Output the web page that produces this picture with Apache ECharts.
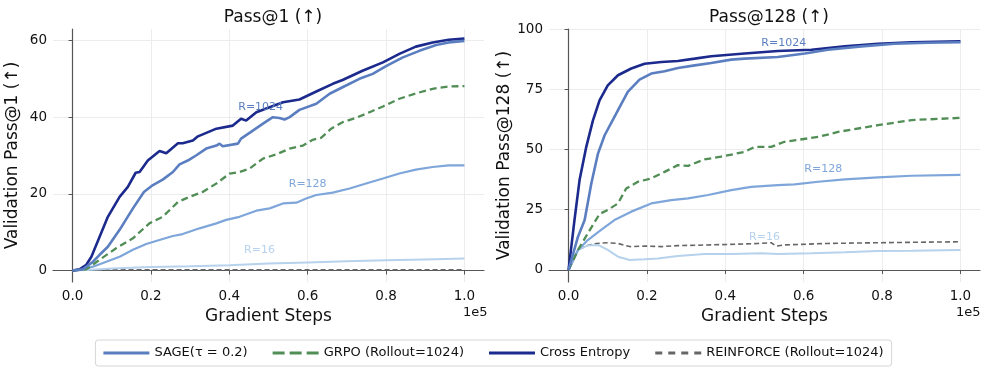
<!DOCTYPE html>
<html>
<head>
<meta charset="utf-8">
<script src="https://cdn.jsdelivr.net/npm/echarts@6.0.0/dist/echarts.min.js"></script>
<style>
  html, body { margin: 0; padding: 0; background: #fff; }
  #chart { width: 987px; height: 375px; }
</style>
</head>
<body>
<div id="chart"></div>
<script>
// x is in units of 1e5 gradient steps
const xTicks = [0, 0.2, 0.4, 0.6, 0.8, 1.0];
const yTicksPass1 = [0, 20, 40, 60];
const yTicksPass128 = [0, 25, 50, 75, 100];

// ---- Pass@1 ----
const pass1CrossEntropy = [[0,0],[0.018,0.3],[0.035,1.5],[0.048,3.6],[0.069,8.8],[0.09,14],[0.12,19.2],[0.141,21.8],[0.161,25.5],[0.171,25.7],[0.192,28.7],[0.222,31.2],[0.239,30.6],[0.269,33.2],[0.281,33.2],[0.307,33.9],[0.32,35],[0.367,37],[0.409,37.8],[0.43,39.6],[0.443,39.1],[0.469,41.3],[0.537,43.9],[0.579,44.6],[0.622,46.7],[0.664,48.7],[0.689,49.7],[0.74,52.1],[0.792,54.3],[0.834,56.5],[0.876,58.4],[0.919,59.5],[0.96,60.2],[1.0,60.5]];
const pass1Sage = [[0,0],[0.026,0.3],[0.052,2.3],[0.069,4.1],[0.09,6.2],[0.12,10.6],[0.154,16.2],[0.182,20.5],[0.205,22.3],[0.23,23.7],[0.256,25.7],[0.273,27.7],[0.298,28.9],[0.315,30],[0.341,31.8],[0.367,32.6],[0.375,33.1],[0.383,32.4],[0.422,33.1],[0.43,34.4],[0.46,36.5],[0.486,38.3],[0.511,40],[0.528,39.8],[0.541,39.4],[0.554,40],[0.579,41.9],[0.622,43.5],[0.656,46.1],[0.689,47.8],[0.732,50],[0.766,51.3],[0.8,53.3],[0.843,55.6],[0.885,57.3],[0.928,58.8],[0.96,59.5],[1.0,59.9]];
const pass1Grpo = [[0,0],[0.035,0.3],[0.069,2.8],[0.111,5.8],[0.154,8.4],[0.196,12.3],[0.23,14],[0.269,17.9],[0.298,19.2],[0.332,20.5],[0.367,22.7],[0.401,25.3],[0.426,25.7],[0.452,26.6],[0.486,29.2],[0.52,30.3],[0.554,31.8],[0.588,32.6],[0.613,34.1],[0.634,34.6],[0.66,37],[0.689,38.7],[0.723,39.8],[0.758,41.3],[0.792,42.8],[0.834,44.8],[0.876,46.2],[0.919,47.4],[0.96,48],[1.0,48.1]];
const pass1R128 = [[0,0],[0.026,0.3],[0.052,1],[0.086,2.3],[0.12,3.6],[0.154,5.4],[0.188,6.9],[0.23,8.2],[0.256,9],[0.281,9.5],[0.324,11],[0.367,12.3],[0.392,13.2],[0.426,14],[0.469,15.6],[0.503,16.2],[0.537,17.5],[0.571,17.7],[0.596,18.8],[0.622,19.7],[0.664,20.3],[0.707,21.4],[0.749,22.7],[0.792,24],[0.834,25.3],[0.876,26.3],[0.919,27],[0.96,27.4],[1.0,27.4]];
const pass1R16 = [[0,0],[0.05,0.2],[0.1,0.5],[0.2,0.9],[0.3,1.1],[0.4,1.4],[0.5,1.8],[0.6,2.1],[0.7,2.4],[0.8,2.7],[0.9,2.9],[1.0,3.1]];
const pass1Reinforce = [[0,0.2],[0.2,0.2],[0.4,0.2],[0.6,0.2],[0.8,0.2],[1.0,0.2]];

// ---- Pass@128 ----
const pass128CrossEntropy = [[0,0],[0.015,20.7],[0.028,37.3],[0.045,51],[0.062,62],[0.079,70.4],[0.1,76.6],[0.126,80.8],[0.16,83.6],[0.194,85.6],[0.237,86.3],[0.279,86.7],[0.322,87.7],[0.364,88.7],[0.449,89.8],[0.534,90.9],[0.62,91.4],[0.705,92.8],[0.79,93.9],[0.875,94.5],[1.0,94.9]];
const pass128Sage = [[0,0],[0.024,13.8],[0.041,20.7],[0.058,35.9],[0.075,48.3],[0.092,55.9],[0.117,63.5],[0.151,73.9],[0.181,79],[0.211,81.5],[0.245,82.5],[0.279,83.8],[0.322,84.9],[0.364,85.9],[0.415,87.3],[0.449,87.7],[0.534,88.4],[0.603,89.8],[0.662,91.4],[0.747,92.8],[0.832,93.9],[0.917,94.3],[1.0,94.5]];
const pass128Grpo = [[0,0],[0.024,8.3],[0.049,15.2],[0.079,23.2],[0.1,24.9],[0.126,27.6],[0.147,33.8],[0.177,36.6],[0.211,38],[0.245,40.7],[0.279,43.5],[0.305,43.2],[0.347,45.9],[0.389,47],[0.449,49],[0.475,51.1],[0.517,51.1],[0.551,53.2],[0.637,55.2],[0.688,57.3],[0.79,60.1],[0.875,62.2],[1.0,63.1]];
const pass128R128 = [[0,0],[0.024,8.3],[0.049,12.4],[0.083,16.6],[0.117,20.7],[0.16,24.2],[0.211,27.6],[0.262,29],[0.305,29.7],[0.356,31.1],[0.415,33.1],[0.466,34.5],[0.534,35.2],[0.577,35.5],[0.637,36.6],[0.705,37.6],[0.79,38.4],[0.875,39.1],[1.0,39.5]];
const pass128R16 = [[0,0],[0.024,8.3],[0.049,10.2],[0.075,10.4],[0.1,8.3],[0.126,5.5],[0.156,4.1],[0.194,4.4],[0.228,4.8],[0.279,5.8],[0.347,6.6],[0.415,6.6],[0.492,6.9],[0.534,6.6],[0.62,6.9],[0.705,7.3],[0.79,7.9],[0.875,8],[1.0,8.3]];
const pass128Reinforce = [[0,0],[0.024,8.3],[0.049,10.2],[0.071,11],[0.1,11.3],[0.126,11],[0.156,9.7],[0.194,9.9],[0.237,9.7],[0.279,10.1],[0.364,10.4],[0.449,10.8],[0.483,11],[0.517,11.3],[0.53,9.9],[0.551,10.4],[0.662,11],[0.79,11.3],[1.0,11.7]];

// text annotations: [label, x, y]
const notesPass1 = [['R=1024', 0.48, 42.5], ['R=128', 0.6, 22.5], ['R=16', 0.477, 5.2]];
const notesPass128 = [['R=1024', 0.549, 94], ['R=128', 0.65, 41.9], ['R=16', 0.5, 13.8]];

const FONT = 'DejaVu Sans';
const C = {
  ce: '#1b2a8c',
  sage: '#5b7ec0',
  grpo: '#518e56',
  r128: '#7ea6da',
  r16: '#b6d2ec',
  reinforce: '#666666'
};

// legend icons (solid / dashed strokes drawn as thin paths)
const ICON_SOLID = 'path://M0,0H46V1H0Z';
const ICON_GRPO = 'path://M0,0H12V1H0ZM17,0H29V1H17ZM34,0H46V1H34Z';
const ICON_REINF = 'path://M0,0H7V1H0ZM13,0H20V1H13ZM26,0H33V1H26ZM39,0H46V1H39Z';

function line(name, data, idx, color, width, dash, z, note) {
  const s = {
    name: name,
    type: 'line',
    xAxisIndex: idx,
    yAxisIndex: idx,
    data: data,
    showSymbol: false,
    symbol: 'none',
    smooth: false,
    z: z,
    lineStyle: { color: color, width: width, type: dash || 'solid' },
    itemStyle: { color: color },
    animation: false
  };
  if (note) {
    s.markPoint = {
      symbol: 'rect',
      symbolSize: 1,
      silent: true,
      animation: false,
      itemStyle: { color: 'rgba(0,0,0,0)' },
      label: {
        show: true, position: 'inside', formatter: note[0],
        color: color, fontSize: 11, fontFamily: FONT
      },
      data: [{ coord: [note[1], note[2]] }]
    };
  }
  return s;
}

function xAxis(idx) {
  return {
    gridIndex: idx, type: 'value', min: -0.05, max: 1.05,
    name: 'Gradient Steps', nameLocation: 'middle', nameGap: 26,
    nameTextStyle: { fontSize: 17, color: '#111', fontFamily: FONT },
    axisLine: { show: true, lineStyle: { color: '#555', width: 1.2 } },
    axisTick: { show: true, length: 4, customValues: xTicks, lineStyle: { color: '#555' } },
    axisLabel: { customValues: xTicks, fontSize: 13.5, color: '#111', fontFamily: FONT, margin: 7,
      formatter: v => v.toFixed(1) },
    splitLine: { show: true, lineStyle: { color: '#ececec', width: 1 } }
  };
}

function yAxis(idx, name, min, max, ticks) {
  return {
    gridIndex: idx, type: 'value', min: min, max: max,
    name: name, nameLocation: 'middle', nameGap: 32, nameRotate: 90,
    nameTextStyle: { fontSize: 17, color: '#111', fontFamily: FONT },
    axisLine: { show: true, lineStyle: { color: '#555', width: 1.2 } },
    axisTick: { show: true, length: 4, customValues: ticks, lineStyle: { color: '#555' } },
    axisLabel: { customValues: ticks, fontSize: 13.5, color: '#111', fontFamily: FONT, margin: 6 },
    splitLine: { show: true, lineStyle: { color: '#ececec', width: 1 } }
  };
}

const chart = echarts.init(document.getElementById('chart'), null, { renderer: 'canvas' });
chart.setOption({
  backgroundColor: '#fff',
  animation: false,
  title: [
    { text: 'Pass@1 (↑)', left: 268, top: 4, textAlign: 'center',
      textStyle: { fontSize: 17, fontWeight: 'normal', color: '#111', fontFamily: FONT } },
    { text: 'Pass@128 (↑)', left: 764, top: 4, textAlign: 'center',
      textStyle: { fontSize: 17, fontWeight: 'normal', color: '#111', fontFamily: FONT } }
  ],
  legend: {
    data: [
      { name: 'SAGE(τ = 0.2)', icon: ICON_SOLID },
      { name: 'GRPO (Rollout=1024)', icon: ICON_GRPO },
      { name: 'Cross Entropy', icon: ICON_SOLID },
      { name: 'REINFORCE (Rollout=1024)', icon: ICON_REINF }
    ],
    left: 'center', top: 340,
    itemWidth: 46, itemHeight: 3, itemGap: 25,
    symbolKeepAspect: false,
    padding: [6, 8], borderColor: '#d5d5d5', borderWidth: 1, borderRadius: 3,
    textStyle: { fontSize: 13, color: '#111', fontFamily: FONT, lineHeight: 14 }
  },
  grid: [
    { left: 53, top: 29, width: 431, height: 253 },
    { left: 549, top: 29, width: 431, height: 253 }
  ],
  xAxis: [xAxis(0), xAxis(1)],
  yAxis: [
    yAxis(0, 'Validation Pass@1 (↑)', -3, 63, yTicksPass1),
    yAxis(1, 'Validation Pass@128 (↑)', -5, 100, yTicksPass128)
  ],
  graphic: [
    { type: 'text', left: 463, top: 306, style: { text: '1e5', fontSize: 13, fill: '#111', fontFamily: FONT } },
    { type: 'text', left: 956, top: 306, style: { text: '1e5', fontSize: 13, fill: '#111', fontFamily: FONT } }
  ],
  series: [
    line('REINFORCE (Rollout=1024)', pass1Reinforce, 0, C.reinforce, 1.6, [5, 3], 2),
    line('R=16', pass1R16, 0, C.r16, 2, null, 3, notesPass1[2]),
    line('R=128', pass1R128, 0, C.r128, 2.2, null, 3, notesPass1[1]),
    line('GRPO (Rollout=1024)', pass1Grpo, 0, C.grpo, 2.3, [7, 4], 4),
    line('SAGE(τ = 0.2)', pass1Sage, 0, C.sage, 2.6, null, 5, notesPass1[0]),
    line('Cross Entropy', pass1CrossEntropy, 0, C.ce, 2.6, null, 4),

    line('REINFORCE (Rollout=1024)', pass128Reinforce, 1, C.reinforce, 1.6, [5, 3], 2),
    line('R=16', pass128R16, 1, C.r16, 2, null, 3, notesPass128[2]),
    line('R=128', pass128R128, 1, C.r128, 2.2, null, 3, notesPass128[1]),
    line('GRPO (Rollout=1024)', pass128Grpo, 1, C.grpo, 2.3, [7, 4], 4),
    line('SAGE(τ = 0.2)', pass128Sage, 1, C.sage, 2.6, null, 5, notesPass128[0]),
    line('Cross Entropy', pass128CrossEntropy, 1, C.ce, 2.6, null, 4)
  ]
});
</script>
</body>
</html>
